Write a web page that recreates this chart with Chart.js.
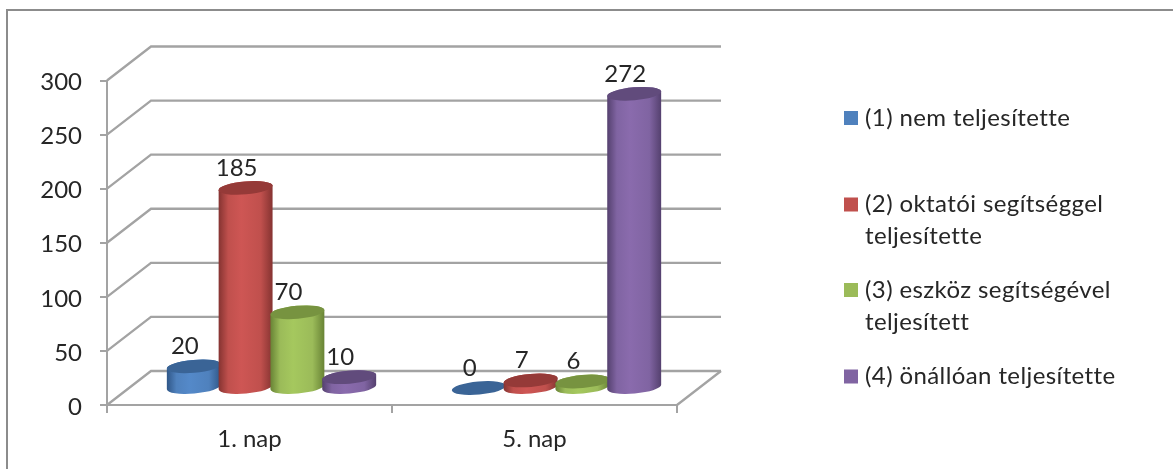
<!DOCTYPE html>
<html lang="hu">
<head>
<meta charset="utf-8">
<title>Feladat teljesítése</title>
<script src="https://cdn.jsdelivr.net/npm/chart.js@4/dist/chart.umd.min.js"></script>
<style>
  html, body { margin: 0; padding: 0; background: #fff; }
  #wrap { width: 1173px; height: 469px; position: relative; }
</style>
</head>
<body>
<div id="wrap"><canvas id="chart" width="1173" height="469"></canvas></div>
<script>
const categories = ["1. nap", "5. nap"];
const seriesNames = [
  "(1) nem teljesítette",
  "(2) oktatói segítséggel teljesítette",
  "(3) eszköz segítségével teljesített",
  "(4) önállóan teljesítette"
];
const notTakenValues = [20, 0];
const withTeacherValues = [185, 7];
const withToolValues = [70, 6];
const aloneValues = [10, 272];
const yTicks = [0, 50, 100, 150, 200, 250, 300];

// Wrapped legend rows and their vertical centres
const legendRows = [
  { lines: ["(1) nem teljesítette"], y: [118] },
  { lines: ["(2) oktatói segítséggel", "teljesítette"], y: [204.5, 236] },
  { lines: ["(3) eszköz segítségével", "teljesített"], y: [290, 322.5] },
  { lines: ["(4) önállóan teljesítette"], y: [376.5] }
];

// Office-style palette: base, cap, cylinder edge, cylinder highlight
const palette = [
  { base: "#4f81bd", cap: "#3a6496", edge: "#2f5687", light: "#5489c9" },
  { base: "#c0504d", cap: "#953a38", edge: "#853331", light: "#ce5654" },
  { base: "#9bbb59", cap: "#779340", edge: "#688335", light: "#a5c85e" },
  { base: "#8064a2", cap: "#614b7c", edge: "#54406e", light: "#8a6bad" }
];

const GRID = "#a3a3a3";
const TEXT = "#262626";
const FONT = '"Lato", "Open Sans", sans-serif';
const FONT_SIZE = 24;
const BACK_DX = 44;
const BACK_DY = 34;
const COLUMN_OVERLAP = 1.045;

// Walls and floor of the oblique 3D box, behind the columns
const boxPlugin = {
  id: "box",
  beforeDatasetsDraw(chart) {
    const { ctx, chartArea: a, scales: { y } } = chart;
    ctx.save();
    ctx.strokeStyle = GRID;
    ctx.lineWidth = 2.3;
    ctx.lineJoin = "miter";
    y.ticks.forEach(t => {
      const py = y.getPixelForValue(t.value);
      ctx.beginPath();
      ctx.moveTo(a.left, py);
      ctx.lineTo(a.left + BACK_DX, py - BACK_DY);
      ctx.lineTo(a.right + BACK_DX, py - BACK_DY);
      ctx.stroke();
    });
    const y0 = y.getPixelForValue(0);
    ctx.beginPath();
    ctx.moveTo(a.right, y0);
    ctx.lineTo(a.right + BACK_DX, y0 - BACK_DY);
    ctx.stroke();
    ctx.restore();
  }
};

// Columns as shaded cylinders standing mid-way into the box
const cylinderPlugin = {
  id: "cylinders",
  afterDatasetsDraw(chart) {
    const { ctx } = chart;
    const ry = 6.5;
    const rot = -5 * Math.PI / 180;
    chart.data.datasets.forEach((ds, i) => {
      const c = palette[i];
      const meta = chart.getDatasetMeta(i);
      meta.data.forEach((bar, j) => {
        const cx = bar.x + BACK_DX / 2;
        const rx = bar.width / 2 * COLUMN_OVERLAP;
        const topY = bar.y - BACK_DY / 2;
        const baseY = bar.base - BACK_DY / 2;
        ctx.save();
        if (ds.data[j] > 0) {
          const g = ctx.createLinearGradient(cx - rx, 0, cx + rx, 0);
          g.addColorStop(0, c.edge);
          g.addColorStop(0.18, c.base);
          g.addColorStop(0.42, c.light);
          g.addColorStop(0.78, c.base);
          g.addColorStop(1, c.edge);
          ctx.fillStyle = g;
          ctx.beginPath();
          ctx.ellipse(cx, baseY, rx, ry, rot, 0, Math.PI);
          ctx.ellipse(cx, topY, rx, ry, rot, Math.PI, 2 * Math.PI);
          ctx.closePath();
          ctx.fill();
        }
        ctx.fillStyle = c.cap;
        ctx.beginPath();
        ctx.ellipse(cx, topY, rx, ry, rot, 0, 2 * Math.PI);
        ctx.fill();
        ctx.restore();
      });
    });
    // Value labels sit up and to the left of each cap
    ctx.save();
    ctx.font = `${FONT_SIZE}px ${FONT}`;
    ctx.fillStyle = TEXT;
    ctx.textAlign = "center";
    ctx.textBaseline = "middle";
    chart.data.datasets.forEach((ds, i) => {
      chart.getDatasetMeta(i).data.forEach((bar, j) => {
        ctx.fillText(String(ds.data[j]), bar.x + BACK_DX / 2 - 9, bar.y - BACK_DY / 2 - 20);
      });
    });
    ctx.restore();
  }
};

// Legend with wrapped entries and a fixed column
const legendPlugin = {
  id: "wrappedLegend",
  afterDraw(chart) {
    const { ctx } = chart;
    ctx.save();
    ctx.font = `${FONT_SIZE}px ${FONT}`;
    ctx.letterSpacing = "0.4px";
    ctx.fillStyle = TEXT;
    ctx.textBaseline = "middle";
    ctx.textAlign = "left";
    legendRows.forEach((row, i) => {
      ctx.fillStyle = palette[i].base;
      ctx.fillRect(844, row.y[0] - 7, 14, 14);
      ctx.fillStyle = TEXT;
      row.lines.forEach((line, k) => ctx.fillText(line, 865, row.y[k]));
    });
    ctx.restore();
  }
};

// Thin frame of the chart object
const framePlugin = {
  id: "frame",
  beforeDraw(chart) {
    const { ctx, width, height } = chart;
    ctx.save();
    ctx.strokeStyle = "#8c8c8c";
    ctx.lineWidth = 2;
    ctx.beginPath();
    ctx.moveTo(7, height);
    ctx.lineTo(7, 10);
    ctx.lineTo(width, 10);
    ctx.stroke();
    ctx.restore();
  }
};

const columns = [notTakenValues, withTeacherValues, withToolValues, aloneValues];

new Chart(document.getElementById("chart"), {
  type: "bar",
  data: {
    labels: categories,
    datasets: columns.map((values, i) => ({
      label: seriesNames[i],
      data: values,
      backgroundColor: "transparent",
      borderWidth: 0
    }))
  },
  options: {
    responsive: false,
    animation: false,
    events: [],
    layout: { padding: { left: 0, top: 80.5, right: 496, bottom: 0 } },
    datasets: { bar: { barPercentage: 1, categoryPercentage: 0.727 } },
    plugins: { legend: { display: false }, tooltip: { enabled: false }, title: { display: false } },
    scales: {
      x: {
        afterFit: s => { s.height = 64; },
        border: { color: GRID, width: 2 },
        grid: { drawOnChartArea: false, drawTicks: true, tickLength: 8, color: GRID, lineWidth: 2, offset: true },
        ticks: { color: TEXT, font: { family: FONT, size: FONT_SIZE }, padding: 12, maxRotation: 0 }
      },
      y: {
        min: 0,
        max: 300,
        afterFit: s => { s.width = 107; },
        afterBuildTicks: s => { s.ticks = yTicks.map(value => ({ value })); },
        border: { color: GRID, width: 2 },
        grid: { drawOnChartArea: false, drawTicks: true, tickLength: 7, color: GRID, lineWidth: 2 },
        ticks: { color: TEXT, font: { family: FONT, size: FONT_SIZE }, padding: 18, labelOffset: 2 }
      }
    }
  },
  plugins: [framePlugin, boxPlugin, cylinderPlugin, legendPlugin]
});
</script>
</body>
</html>
